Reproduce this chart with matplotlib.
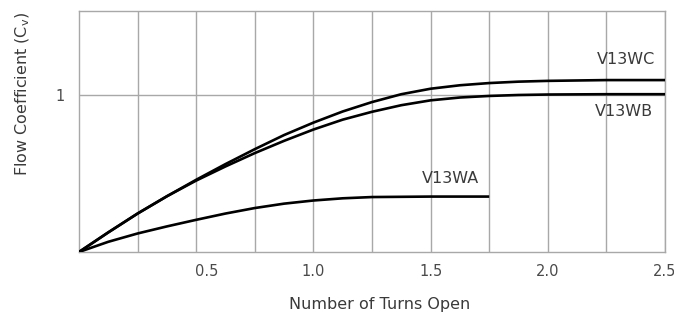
import matplotlib
matplotlib.use("Agg")
import matplotlib.pyplot as plt
import matplotlib.transforms as mtransforms

# Data
turns = [0, 0.125, 0.25, 0.375, 0.5, 0.625, 0.75, 0.875, 1.0, 1.125, 1.25,
         1.375, 1.5, 1.625, 1.75, 1.875, 2.0, 2.25, 2.5]
v13wc = [0, 0.125, 0.245, 0.355, 0.46, 0.56, 0.655, 0.745, 0.824, 0.895, 0.955,
         1.005, 1.04, 1.062, 1.076, 1.085, 1.09, 1.095, 1.095]
v13wb = [0, 0.125, 0.245, 0.355, 0.455, 0.545, 0.63, 0.708, 0.78, 0.843, 0.893,
         0.935, 0.966, 0.984, 0.994, 1.0, 1.003, 1.005, 1.005]
turns_wa = [0, 0.125, 0.25, 0.375, 0.5, 0.625, 0.75, 0.875, 1.0, 1.125, 1.25, 1.5, 1.75]
v13wa = [0, 0.065, 0.118, 0.163, 0.205, 0.245, 0.28, 0.308, 0.328, 0.342, 0.35, 0.353, 0.353]

x_ticks = [0.5, 1.0, 1.5, 2.0, 2.5]
x_tick_labels = ["0.5", "1.0", "1.5", "2.0", "2.5"]
x_grid = [0.25, 0.5, 0.75, 1.0, 1.25, 1.5, 1.75, 2.0, 2.25, 2.5]
y_ticks = [1]
y_tick_labels = ["1"]

W, H = 674, 316
fig = plt.figure(figsize=(W / 100, H / 100), dpi=100)
ax = fig.add_axes([79 / W, 1 - 252 / H, 586 / W, 241 / H])

grid_c = "#a8a8a8"
text_c = "#3a3a3a"

ax.set_xlim(0, 2.5)
ax.set_ylim(0, 1.535)

for xv in x_grid:
    ax.axvline(xv, color=grid_c, lw=1.0, zorder=1)
ax.axhline(1, color=grid_c, lw=1.0, zorder=1)

lw = 1.9
for xs, ys in ((turns, v13wc), (turns, v13wb), (turns_wa, v13wa)):
    ax.plot(xs, ys, color="black", lw=lw, zorder=3,
            solid_capstyle="butt", solid_joinstyle="round")

ax.text(2.334, 1.223, "V13WC", ha="center", va="center", fontsize=11.5, color=text_c)
ax.text(2.325, 0.892, "V13WB", ha="center", va="center", fontsize=11.5, color=text_c)
ax.text(1.583, 0.468, "V13WA", ha="center", va="center", fontsize=11.5, color=text_c)

ax.set_xticks(x_ticks)
ax.set_xticklabels(x_tick_labels)
ax.set_yticks(y_ticks)
ax.set_yticklabels(y_tick_labels)
ax.tick_params(axis="both", length=0, labelsize=10.5, labelcolor="#4a4a4a")
ax.tick_params(axis="x", pad=9)
ax.tick_params(axis="y", pad=10)

# the "0.5" label sits slightly right of its grid line in the reference
lbl = ax.get_xticklabels()[0]
lbl.set_transform(lbl.get_transform() + mtransforms.ScaledTranslation(10 / 100, 0, fig.dpi_scale_trans))

for s in ax.spines.values():
    s.set_color(grid_c)
    s.set_linewidth(1.0)

fig.text(380 / W, 1 - 305 / H, "Number of Turns Open", ha="center", va="center",
         fontsize=11.5, color=text_c)
fig.text(22.5 / W, 1 - 93.5 / H, "Flow Coefficient (C$_\\mathregular{v}$)", ha="center",
         va="center", rotation=90, fontsize=11.5, color=text_c)

fig.savefig("out.png", dpi=100)
